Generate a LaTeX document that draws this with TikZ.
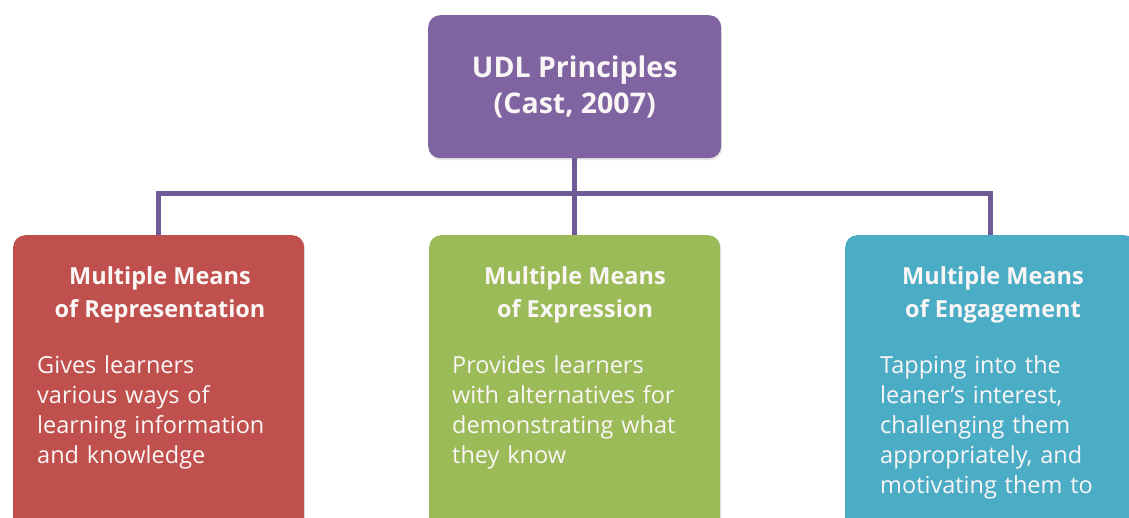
\documentclass[tikz,border=0pt]{standalone}
\usepackage{fontspec}
\setmainfont{Open Sans}
\usetikzlibrary{positioning,calc,shadows}
\definecolor{udPurple} {RGB}{128,100,162}
\definecolor{udLink}   {RGB}{112, 90,150}
\definecolor{udRed}    {RGB}{192, 80, 77}
\definecolor{udGreen}  {RGB}{155,187, 89}
\definecolor{udTeal}   {RGB}{ 75,172,198}
\definecolor{udText}   {RGB}{250,246,246}

\begin{document}
\begin{tikzpicture}[
  x=1pt,y=-1pt,
  every node/.style={text=udText,inner sep=0pt},
  card/.style={rounded corners=12pt,anchor=north west,
               drop shadow={opacity=0.18,shadow xshift=1pt,shadow yshift=-2pt}},
  top/.style={card,fill=udPurple,minimum width=293pt,minimum height=143pt,
              align=center,font=\bfseries\fontsize{28.5}{36}\selectfont},
  prin/.style={card,minimum width=291pt,minimum height=330pt},
  head/.style={anchor=north,align=center,font=\bfseries\fontsize{23.5}{33}\selectfont},
  body/.style={anchor=north west,align=left,text width=280pt,
               font=\fontsize{23.5}{30}\selectfont},
  link/.style={draw=udLink,line width=5pt}
]
\clip (0,0) rectangle (1129,517);
\fill[white] (0,0) rectangle (1129,517);

% connectors
\node[top] (U) at (428,15) {UDL Principles\\(Cast, 2007)};
\coordinate (bar) at (574.5,193);
\node[prin,fill=udRed]   (R) at ( 13,235) {};
\node[prin,fill=udGreen] (G) at (429,235) {};
\node[prin,fill=udTeal]  (T) at (845,235) {};
\draw[link] (R.north) |- (bar) -| (T.north);
\draw[link] (U.south) -- (U.south |- bar) -- (G.north);

% texts
\node[head] (RH) at (160,266) {Multiple Means\\of Representation};
\node[head] (GH) at (575,266) {Multiple Means\\of Expression};
\node[head] (TH) at (993,266) {Multiple Means\\of Engagement};
\node[body] (RB) at ( 37,355) {Gives learners\\various ways of\\learning information\\and knowledge};
\node[body] (GB) at (452,355) {Provides learners\\with alternatives for\\demonstrating what\\they know};
\node[body] (TB) at (880,355) {Tapping into the\\leaner’s interest,\\challenging them\\appropriately, and\\motivating them to};
\end{tikzpicture}
\end{document}
